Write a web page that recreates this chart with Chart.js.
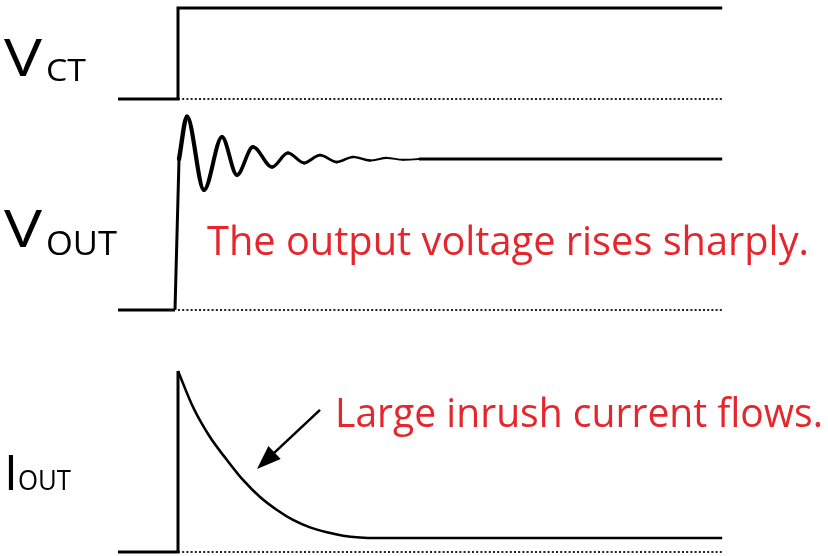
<!DOCTYPE html>
<html>
<head>
<meta charset="utf-8">
<script src="https://cdn.jsdelivr.net/npm/chart.js@4.4.1/dist/chart.umd.min.js"></script>
<style>
html,body{margin:0;padding:0;background:#fff;}
canvas{display:block;}
</style>
</head>
<body>
<canvas id="c" width="828" height="556"></canvas>
<script>
// ---- data (time in arbitrary units, step applied at t = 0) ----
const tStart = -1;
const tEnd = 9.07;

// V_CT control voltage (normalised)
const vctTime  = [tStart, 0, 0, tEnd];
const vctValue = [0, 0, 1, 1];

// V_OUT: off level, sharp rise, damped ringing, settled level
const voutLowTime  = [tStart, -0.05];
const voutLowValue = [0, 0];
const voutRiseTime  = [-0.05, 0.017];
const voutRiseValue = [0, 1.0];
const ringTime  = [0.017, 0.15, 0.433, 0.733, 0.983, 1.25, 1.567, 1.833, 2.1, 2.367, 2.65, 2.917, 3.2, 3.483, 3.75, 4.017];
const ringValue = [1.0, 1.28, 0.795, 1.146, 0.894, 1.08, 0.947, 1.04, 0.974, 1.026, 0.98, 1.014, 0.99, 1.007, 0.995, 1.0];
const voutHighTime  = [4.017, tEnd];
const voutHighValue = [1, 1];

// I_OUT: inrush spike and decay
const ioutStepTime  = [tStart, 0, 0];
const ioutStepValue = [0, 0, 1];
const decayTime  = [0, 0.25, 0.533, 0.817, 1.083, 1.367, 1.65, 1.917, 2.2, 2.483, 2.75, 3.033, 3.3, tEnd];
const decayValue = [1, 0.801, 0.635, 0.508, 0.398, 0.304, 0.232, 0.177, 0.136, 0.109, 0.09, 0.08, 0.077, 0.077];

// zero references (dotted)
const zeroTime = [0, tEnd];
const zeroValue = [0, 0];

// arrow (tail -> tip) in I_OUT units
const arrowTime  = [2.367, 1.317];
const arrowValue = [0.785, 0.459];

// texts
const labelVct  = ["V", "CT"];
const labelVout = ["V", "OUT"];
const labelIout = ["I", "OUT"];
const noteVout = "The output voltage rises sharply.";
const noteIout = "Large inrush current flows.";

// ---- helpers ----
const pts = (xs, ys) => xs.map((x, i) => ({x, y: ys[i]}));
const solid = (data, axis, extra) => Object.assign({
  data, yAxisID: axis, borderColor: '#000', borderWidth: 3, pointRadius: 0,
  tension: 0, borderJoinStyle: 'miter', borderCapStyle: 'butt', fill: false
}, extra || {});
const dotted = (data, axis) => solid(data, axis, {borderWidth: 2, borderDash: [2, 2.2], borderColor: '#222'});

const FONT = '"Open Sans", "Noto Sans", sans-serif';
const RED = '#e5262c';

const textPlugin = {
  id: 'texts',
  afterDatasetsDraw(chart) {
    const ctx = chart.ctx;
    const x = chart.scales.x, yI = chart.scales.yI;
    // arrow
    const x0 = x.getPixelForValue(arrowTime[0]), y0 = yI.getPixelForValue(arrowValue[0]);
    const x1 = x.getPixelForValue(arrowTime[1]), y1 = yI.getPixelForValue(arrowValue[1]);
    const ang = Math.atan2(y1 - y0, x1 - x0);
    const hl = 24, hw = 9;
    const bx = x1 - hl * Math.cos(ang), by = y1 - hl * Math.sin(ang);
    ctx.save();
    ctx.strokeStyle = '#000'; ctx.fillStyle = '#000'; ctx.lineWidth = 2.5;
    ctx.beginPath(); ctx.moveTo(x0, y0); ctx.lineTo(bx + 2*Math.cos(ang), by + 2*Math.sin(ang)); ctx.stroke();
    ctx.beginPath();
    ctx.moveTo(x1, y1);
    ctx.lineTo(bx + hw * Math.sin(ang), by - hw * Math.cos(ang));
    ctx.lineTo(bx - hw * Math.sin(ang), by + hw * Math.cos(ang));
    ctx.closePath(); ctx.fill();

    // axis labels: main letter + subscript, each fitted to its width
    const fit = (t, size, left, right, base) => {
      ctx.font = size + 'px ' + FONT;
      const w = ctx.measureText(t).width;
      ctx.save();
      ctx.translate(left, base);
      ctx.scale((right - left) / w, 1);
      ctx.fillText(t, 0, 0);
      ctx.restore();
    };
    ctx.fillStyle = '#000';
    ctx.textBaseline = 'alphabetic'; ctx.textAlign = 'left';
    fit(labelVct[0], 51, 4, 42, 76);
    fit(labelVct[1], 31, 46, 86, 81);
    fit(labelVout[0], 51, 4, 42, 247);
    fit(labelVout[1], 32, 46, 117, 255);
    ctx.font = '50px ' + FONT;
    ctx.fillText(labelIout[0], 4, 490);
    fit(labelIout[1], 28, 18, 71, 490);

    // red notes, fitted to width
    ctx.fillStyle = RED;
    fit(noteVout, 41, 207, 809, 255);
    fit(noteIout, 41, 335, 823, 427);
    ctx.restore();
  }
};

new Chart(document.getElementById('c'), {
  type: 'line',
  data: {
    datasets: [
      solid(pts(vctTime, vctValue), 'yCT'),
      dotted(pts(zeroTime, zeroValue), 'yCT'),
      solid(pts(voutLowTime, voutLowValue), 'yOUT'),
      solid(pts(voutRiseTime, voutRiseValue), 'yOUT'),
      solid(pts(ringTime, ringValue), 'yOUT', {
        cubicInterpolationMode: 'monotone', borderJoinStyle: 'round', borderCapStyle: 'round',
        segment: { borderWidth: c => 4.4 - 2.8 * c.p0DataIndex / (ringTime.length - 1) }
      }),
      solid(pts(voutHighTime, voutHighValue), 'yOUT'),
      dotted(pts(zeroTime, zeroValue), 'yOUT'),
      solid(pts(ioutStepTime, ioutStepValue), 'yI'),
      solid(pts(decayTime, decayValue), 'yI', {cubicInterpolationMode: 'monotone', borderWidth: 2.6}),
      dotted(pts(zeroTime, zeroValue), 'yI')
    ]
  },
  options: {
    responsive: false, animation: false, devicePixelRatio: 1,
    layout: {padding: 0},
    events: [],
    plugins: {legend: {display: false}, tooltip: {enabled: false}},
    scales: {
      x:    {type: 'linear', display: false, min: -2.9667, max: 10.8333},
      yCT:  {type: 'linear', display: false, min: -5.022, max: 1.0879},
      yOUT: {type: 'linear', display: false, min: -1.629, max: 2.053},
      yI:   {type: 'linear', display: false, min: -0.0221, max: 3.05}
    }
  },
  plugins: [textPlugin]
});
</script>
</body>
</html>
